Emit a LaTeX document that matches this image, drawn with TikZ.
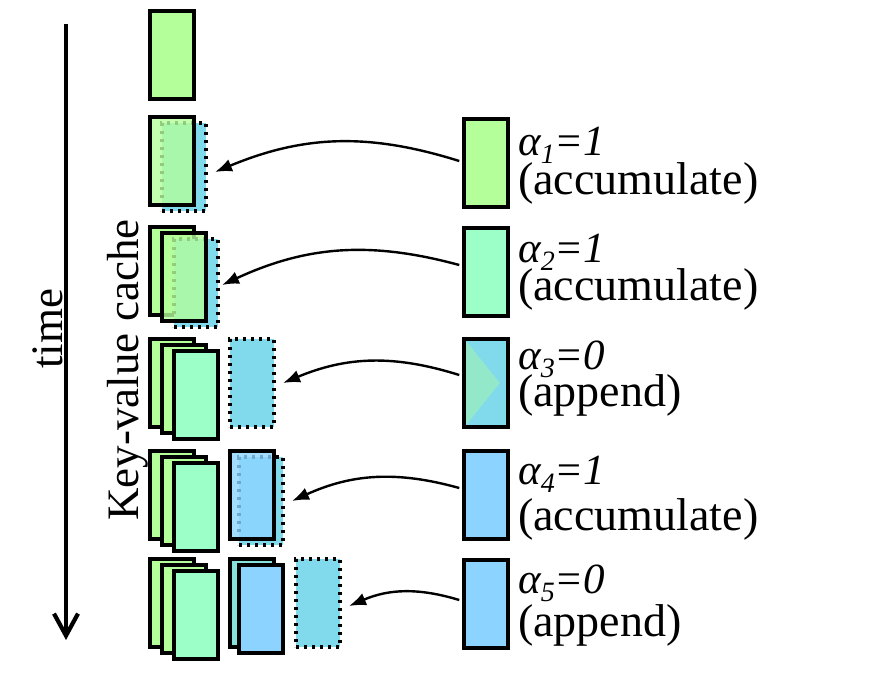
\documentclass[tikz,border=0pt]{standalone}
\usepackage{fontspec}
\setmainfont{Liberation Serif}
\usetikzlibrary{arrows.meta}
\definecolor{greenc}{RGB}{180,255,154}
\definecolor{mintc}{RGB}{156,255,200}
\definecolor{bluec}{RGB}{140,212,255}
\definecolor{cyanc}{RGB}{128,218,235}
\newcommand\asub[1]{{\fontsize{28}{28}\selectfont\raisebox{-8pt}{#1}}}
\tikzset{
  kv/.style={draw=black, line width=4.2pt, minimum width=43.5pt, minimum height=88.5pt, inner sep=0pt, outer sep=0pt},
  dotbox/.style={draw=black, line width=3.6pt, dash pattern=on 3.4pt off 4.6pt, fill=cyanc, minimum width=44pt, minimum height=88pt, inner sep=0pt, outer sep=0pt},
  trans/.style={fill opacity=0.8},
  arr/.style={-{Latex[length=17pt,width=13pt]}, line width=2.4pt, bend right=20},
  timearr/.style={-{Straight Barb[length=22pt,width=24pt]}, line width=4.2pt},
  labA/.style={anchor=base west, inner sep=0pt, font=\fontsize{43}{43}\selectfont\itshape},
  labB/.style={anchor=base west, inner sep=0pt, font=\fontsize{46}{46}\selectfont},
  side/.style={anchor=base, rotate=90, inner sep=0pt, font=\fontsize{45}{45}\selectfont},
}
\begin{document}
\begin{tikzpicture}[x=1pt,y=-1pt]
\useasboundingbox (0,0) rectangle (872,699);

% time axis
\coordinate (t0) at (66,24);
\coordinate (t1) at (66,640);
\draw[timearr] (t0) -- (t1);
\node[side] (time) at (62,329) {time};
\node[side] (kvc) at (138,370) {Key-value cache};

% row 1
\node[kv, fill=greenc] (r1a) at (172,55) {};

% row 2
\node[dotbox] (r2c) at (184,167) {};
\node[kv, fill=greenc, trans] (r2a) at (172,161) {};

% row 3
\node[kv, fill=greenc] (r3a) at (172,271) {};
\node[dotbox] (r3c) at (196,283) {};
\node[kv, fill=greenc, trans] (r3b) at (184,277) {};

% row 4
\node[kv, fill=greenc] (r4a) at (172,383) {};
\node[kv, fill=greenc] (r4b) at (184,389) {};
\node[kv, fill=mintc] (r4c) at (196,395) {};
\node[dotbox] (r4d) at (252,383) {};

% row 5
\node[kv, fill=greenc] (r5a) at (172,495) {};
\node[kv, fill=greenc] (r5b) at (184,501) {};
\node[kv, fill=mintc] (r5c) at (196,507) {};
\node[dotbox] (r5e) at (261,501) {};
\node[kv, fill=bluec, trans] (r5d) at (252,495) {};

% row 6
\node[kv, fill=greenc] (r6a) at (172,603) {};
\node[kv, fill=greenc] (r6b) at (184,609) {};
\node[kv, fill=mintc] (r6c) at (196,615) {};
\node[kv, fill=cyanc!80!greenc] (r6d) at (252,603) {};
\node[kv, fill=bluec] (r6e) at (261,609) {};
\node[dotbox] (r6f) at (318,603) {};

% new key-value boxes
\node[kv, fill=greenc] (a1) at (486,163) {};
\node[kv, fill=mintc] (a2) at (486,272) {};
\node[kv, fill=cyanc, path picture={\fill[greenc, opacity=.4] (path picture bounding box.north west) -- ([xshift=-8pt]path picture bounding box.east) -- (path picture bounding box.south west) -- cycle;}] (a3) at (486,383) {};
\node[kv, fill=bluec] (a4) at (486,495) {};
\node[kv, fill=bluec] (a5) at (486,604) {};

% labels
\node[labA] (l1a) at (518,155) {α\asub{1}=1};
\node[labB] (l1b) at (518,194) {(accumulate)};
\node[labA] (l2a) at (518,262) {α\asub{2}=1};
\node[labB] (l2b) at (518,300) {(accumulate)};
\node[labA] (l3a) at (518,369) {α\asub{3}=0};
\node[labB] (l3b) at (518,406) {(append)};
\node[labA] (l4a) at (518,484) {α\asub{4}=1};
\node[labB] (l4b) at (518,530) {(accumulate)};
\node[labA] (l5a) at (518,593) {α\asub{5}=0};
\node[labB] (l5b) at (518,636) {(append)};

% arrows
\draw[arr] ([xshift=-5pt,yshift=2pt]a1.west) to ([xshift=9pt,yshift=-5pt]r2c.east);
\draw[arr] ([xshift=-5pt,yshift=7pt]a2.west) to ([xshift=4pt,yshift=-2pt]r3c.east);
\draw[arr] ([xshift=-5pt,yshift=8pt]a3.west) to ([xshift=9pt]r4d.east);
\draw[arr] ([xshift=-5pt,yshift=7pt]a4.west) to ([xshift=9pt]r5e.east);
\draw[arr] ([xshift=-5pt,yshift=4pt]a5.west) to ([xshift=9pt,yshift=-3pt]r6f.east);
\end{tikzpicture}
\end{document}
